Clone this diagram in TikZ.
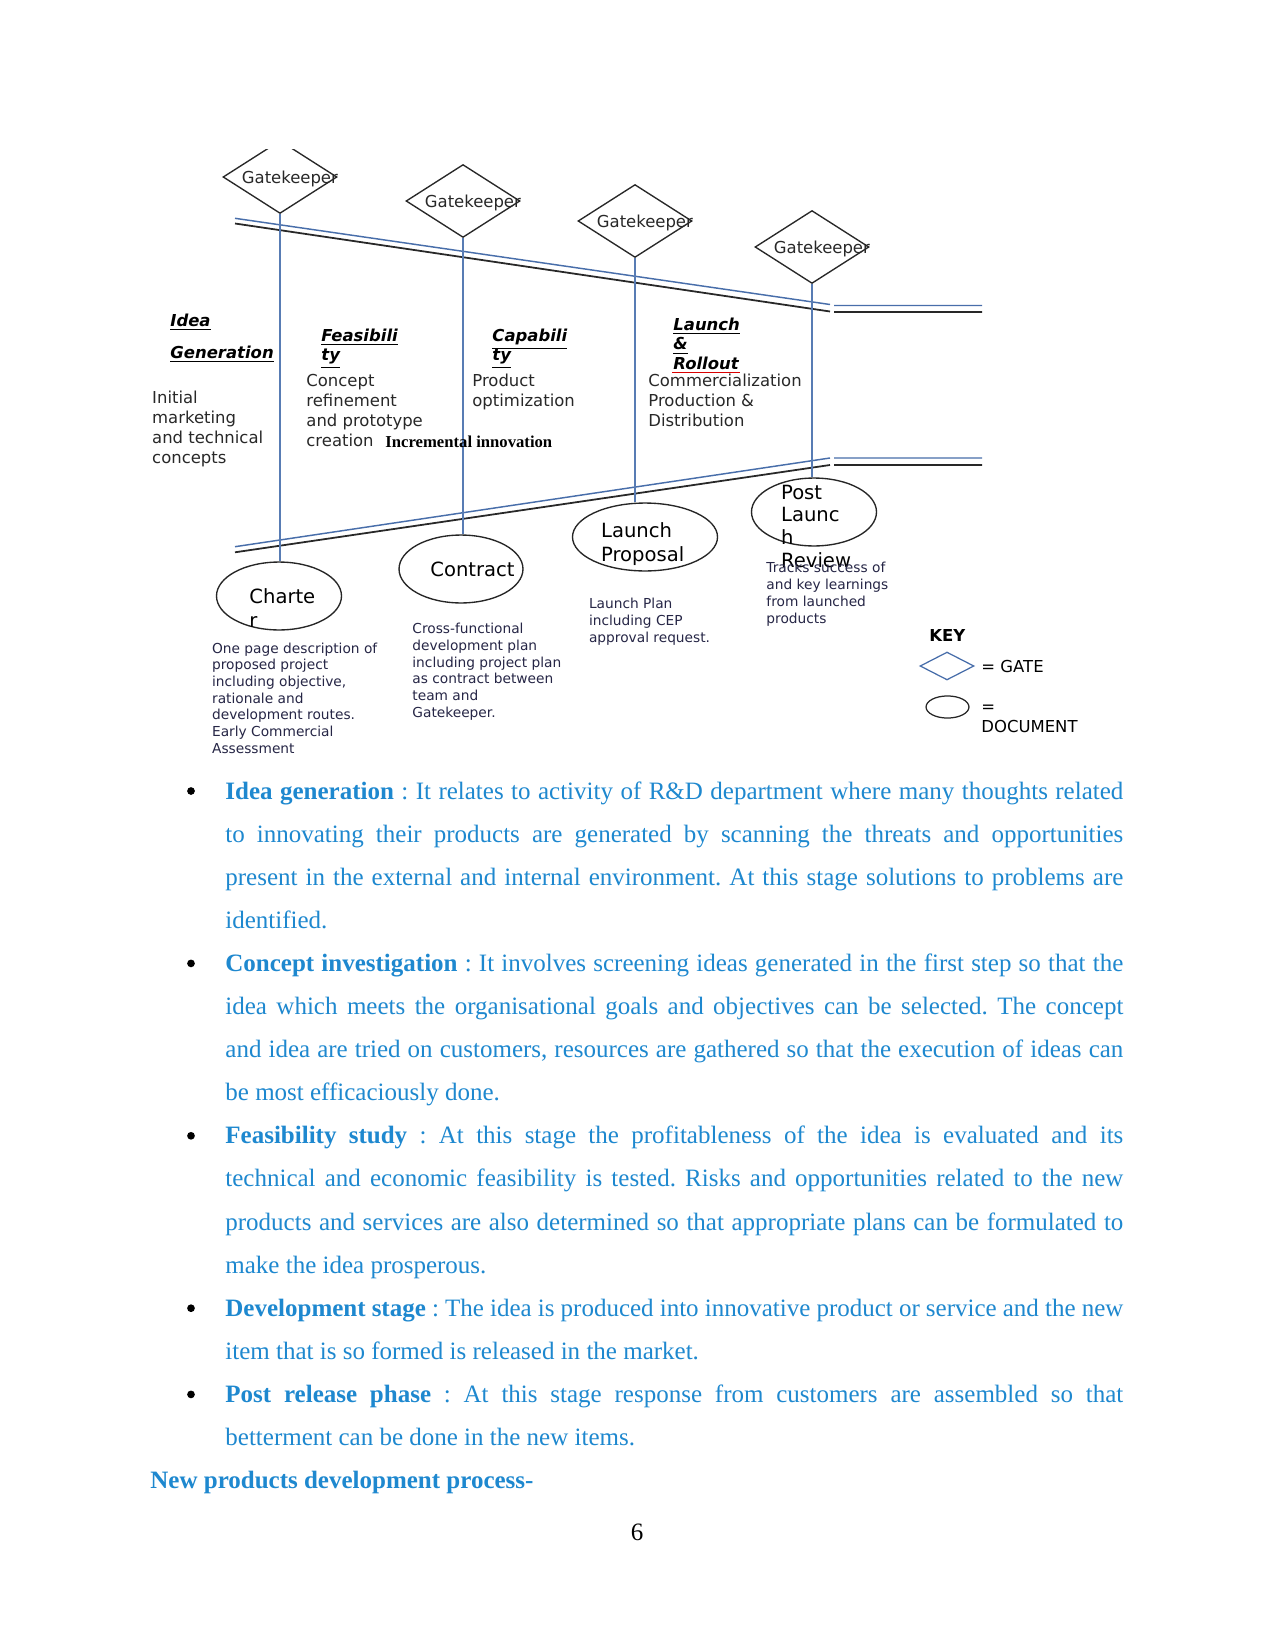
\documentclass[tikz,border=0pt]{standalone}
\usepackage{fontspec}
\setmainfont{Liberation Serif}
\newfontfamily\dejavu{DejaVu Sans}
\usetikzlibrary{shapes.geometric}
\definecolor{bodyblue}{RGB}{30,136,207}
\definecolor{stemblue}{RGB}{88,124,180}
\definecolor{railblue}{RGB}{72,110,170}
\definecolor{inkgray}{RGB}{40,40,40}
\definecolor{noteink}{RGB}{38,38,70}
\newcommand{\jline}[1]{\makebox[431pt][s]{#1}}
\tikzset{
  gatebox/.style={diamond,draw=inkgray,line width=0.65pt,minimum width=54.7pt,minimum height=35pt,inner sep=0pt},
  docbox/.style={ellipse,draw=black!85,line width=0.65pt,inner sep=0pt,minimum height=32.6pt},
  stemline/.style={stemblue,line width=0.75pt},
  txt/.style={anchor=base west,inner sep=0pt,align=flush left,text width=120pt,text=inkgray},
  gktxt/.style={txt,font=\dejavu\fontsize{7.9}{9.5}\selectfont},
  headtxt/.style={txt,text=black,font=\dejavu\bfseries\itshape\fontsize{7.9}{9.2}\selectfont},
  desctxt/.style={txt,font=\dejavu\fontsize{7.9}{9.6}\selectfont},
  doctxt/.style={txt,text=black,font=\dejavu\fontsize{9.4}{11.6}\selectfont},
  notetxt/.style={txt,text=noteink,font=\dejavu\fontsize{6.6}{8.1}\selectfont},
  keytxt/.style={txt,text=black,font=\dejavu\fontsize{7.9}{9.9}\selectfont},
  bodypar/.style={anchor=base west,inner sep=0pt,align=flush left,text width=431pt,text=bodyblue,font=\fontsize{12}{20.7}\selectfont\frenchspacing},
  bulletdot/.style={circle,fill=black,inner sep=0pt,minimum size=3.7pt}
}
\begin{document}
\begin{tikzpicture}[x=0.48pt,y=-0.48pt]
  \path[fill=white,use as bounding box] (0,0) rectangle (1275,1651);

  \draw[railblue,line width=0.7pt] (235,218.3)--(830,304.5) (834,305.5)--(982,305.5);
  \draw[inkgray,line width=0.85pt] (235,223.5)--(830,311.5) (834,312)--(982,312);
  \draw[railblue,line width=0.7pt] (235,546.7)--(830,458) (834,458)--(982,458);
  \draw[inkgray,line width=0.85pt] (235,552.3)--(830,465) (834,465)--(982,465);

  \begin{scope}
    \clip (0,150) rectangle (1275,320);
    \foreach \i/\x/\y in {1/280/177,2/463/201,3/635/221,4/812/247}{
      \node[gatebox] (g\i) at (\x,\y) {};
      \node[gktxt] (gt\i) at (\x-38.5,\y+6.3) {Gatekeeper};
    }
  \end{scope}

  \node[docbox,minimum width=60pt] (c1) at (279,596) {};
  \node[docbox,minimum width=59.5pt] (c2) at (461,569) {};
  \node[docbox,minimum width=69.6pt] (c3) at (645,537) {};
  \node[docbox,minimum width=60pt] (c4) at (814,512) {};
  \foreach \i in {1,...,4}
    \draw[stemline] (g\i.south) -- (g\i.south |- c\i.north);

  \node[headtxt] (h1) at (170,326.7) {\underline{Idea}\\[6pt]\underline{Generation}};
  \node[headtxt] (h2) at (321,341.7) {\underline{Feasibili}\\\underline{ty}};
  \node[headtxt] (h3) at (492,341.7) {\underline{Capabili}\\\underline{ty}};
  \node[headtxt] (h4) at (673,330.7) {\underline{Launch}\\\underline{\&}\\\underline{Rollout}};
  \draw[red!85!black,line width=0.6pt] (672,372.5) -- (740,372.5);

  \node[desctxt] (s1) at (151.8,403.3) {Initial\\marketing\\and technical\\concepts};
  \node[desctxt] (s2) at (306,386) {Concept\\refinement\\and prototype\\creation};
  \node[desctxt] (s3) at (472,386) {Product\\optimization};
  \node[desctxt] (s4) at (648,386) {Commercialization\\Production \&\\Distribution};
  \node[txt,text=black,font=\bfseries\fontsize{8}{9.6}\selectfont] (inc) at (385,447.7) {Incremental innovation};

  \node[doctxt] (d1) at (249,603.3) {Charte\\r};
  \node[doctxt] (d2) at (430,576) {Contract};
  \node[doctxt] (d3) at (600.7,537.3) {Launch\\Proposal};
  \node[doctxt,font=\dejavu\fontsize{9.4}{11}\selectfont] (d4) at (780.7,499) {Post\\Launc\\h\\Review};

  \node[notetxt,font=\dejavu\fontsize{6.6}{8}\selectfont] (n1) at (211.7,653.3) {One page description of\\proposed project\\including objective,\\rationale and\\development routes.\\Early Commercial\\Assessment};
  \node[notetxt] (n2) at (412,633.3) {Cross-functional\\development plan\\including project plan\\as contract between\\team and\\Gatekeeper.};
  \node[notetxt] (n3) at (588.6,608.3) {Launch Plan\\including CEP\\approval request.};
  \node[notetxt] (n4) at (766,572.6) {Tracks success of\\and key learnings\\from launched\\products};

  \node[keytxt,font=\dejavu\bfseries\fontsize{7.9}{9.9}\selectfont] (key) at (929,641) {KEY};
  \node[diamond,draw=railblue,line width=0.6pt,minimum width=25.9pt,minimum height=13.4pt,inner sep=0pt] (kg) at (947,666) {};
  \node[keytxt] (kgt) at (981,672.5) {= GATE};
  \node[ellipse,draw=black!85,line width=0.6pt,minimum width=20.6pt,minimum height=10.6pt,inner sep=0pt] (kd) at (947.5,707) {};
  \node[keytxt] (kdt) at (981,712) {=\\DOCUMENT};

  \foreach \y [count=\i] in {791,963.4,1135.8,1308.2,1394.4}
    \node[bulletdot] (b\i) at (191,\y) {};
  \node[bodypar] (p1) at (225,799) {\jline{\textbf{Idea generation} : It relates to activity of R\&D department where many thoughts related}\\
    \jline{to innovating their products are generated by scanning the threats and opportunities}\\
    \jline{present in the external and internal environment. At this stage solutions to problems are}\\
    identified.};
  \node[bodypar] (p2) at (225,971.4) {\jline{\textbf{Concept investigation} : It involves screening ideas generated in the first step so that the}\\
    \jline{idea which meets the organisational goals and objectives can be selected. The concept}\\
    \jline{and idea are tried on customers, resources are gathered so that the execution of ideas can}\\
    be most efficaciously done.};
  \node[bodypar] (p3) at (225,1143.8) {\jline{\textbf{Feasibility study} : At this stage the profitableness of the idea is evaluated and its}\\
    \jline{technical and economic feasibility is tested. Risks and opportunities related to the new}\\
    \jline{products and services are also determined so that appropriate plans can be formulated to}\\
    make the idea prosperous.};
  \node[bodypar] (p4) at (225,1316.2) {\jline{\textbf{Development stage} : The idea is produced into innovative product or service and the new}\\
    item that is so formed is released in the market.};
  \node[bodypar] (p5) at (225,1402.4) {\jline{\textbf{Post release phase} : At this stage response from customers are assembled so that}\\
    betterment can be done in the new items.};
  \node[anchor=base west,inner sep=0pt,text=bodyblue,font=\bfseries\fontsize{12}{14}\selectfont] (ttl) at (150,1488.6) {New products development process-};
  \node[anchor=base,inner sep=0pt,font=\fontsize{12}{14}\selectfont] (pg) at (637,1540) {6};
\end{tikzpicture}
\end{document}
